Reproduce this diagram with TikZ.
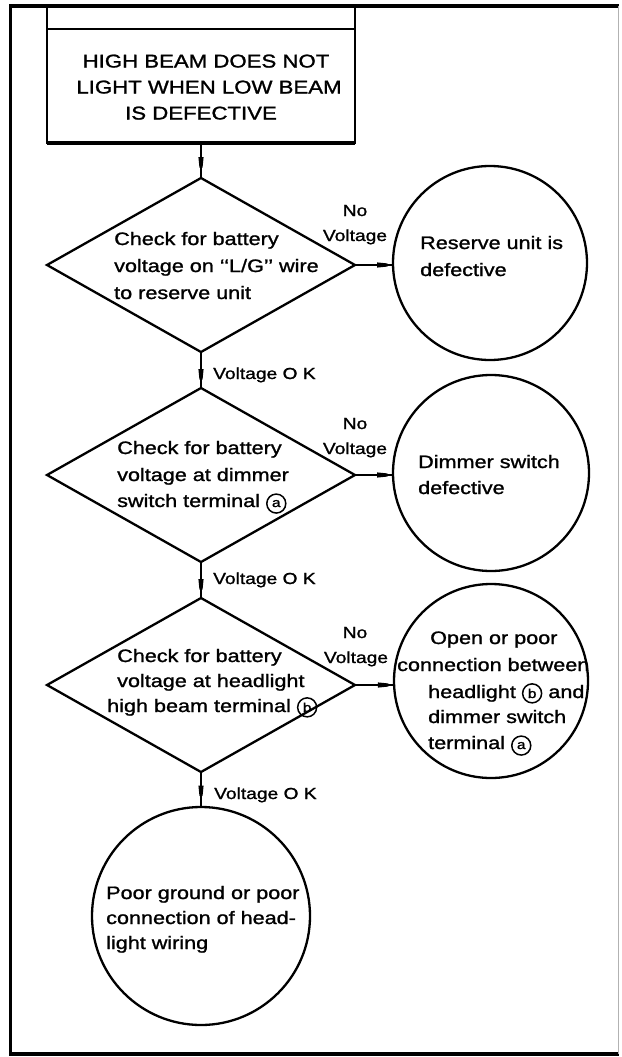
\documentclass[tikz,border=0pt]{standalone}
\usepackage{fontspec}
\setmainfont{Liberation Sans}[FakeStretch=1.2,FakeBold=1.3]
\usetikzlibrary{shapes.geometric,arrows.meta,decorations.markings}
\newcommand{\circlet}[1]{\tikz[baseline=(cc.base)]\node[circle,draw,anchor=center,line width=1.5pt,inner sep=0pt,minimum size=19pt,font=\fontsize{13}{13}\selectfont](cc){#1};}
\tikzset{
  shp/.style={draw, line width=2.3pt, inner sep=0pt, outer sep=0pt},
  dia/.style={shp, diamond, minimum width=308pt, minimum height=174pt},
  circ/.style={shp, circle},
  txt/.style={anchor=base west, inner sep=0pt, font=\fontsize{18}{18}\selectfont},
  captxt/.style={anchor=base, inner sep=0pt, font=\fontsize{18.5}{18.5}\selectfont},
  lbl/.style={anchor=base, inner sep=0pt, font=\fontsize{16}{16}\selectfont},
  lblw/.style={anchor=base west, inner sep=0pt, font=\fontsize{16}{16}\selectfont},
  conn/.style={line width=2.3pt, postaction={decorate},
    decoration={markings, mark=at position #1 with {\fill (-11pt,2.6pt) -- (-1pt,1.6pt) -- (1pt,0pt) -- (-1pt,-1.6pt) -- (-11pt,-2.6pt) -- cycle;}}},
  conn/.default=0.8
}
\begin{document}
\begin{tikzpicture}[x=1pt,y=-1pt]
\useasboundingbox (0,0) rectangle (621,1057);
% frame
\draw[line width=3.5pt] (618.5,6) -- (10.5,6) -- (10.5,1054) -- (618.5,1054);
\draw[line width=1pt, gray!60] (618.5,6) -- (618.5,1054);
\coordinate (ftop) at (0,6);
% top box
\node[shp, rectangle, line width=2.6pt, minimum width=308pt, minimum height=114pt] (box) at (201,86) {};
\draw[line width=4pt] (box.south west) -- (box.south east);
\draw[line width=2.6pt] (box.north west) -- (box.north west |- ftop);
\draw[line width=2.6pt] (box.north east) -- (box.north east |- ftop);
\node[captxt] (b1) at (206,67.5) {HIGH BEAM DOES NOT};
\node[captxt] (b2) at (209,93.5) {LIGHT WHEN LOW BEAM};
\node[captxt] (b3) at (201,119.5) {IS DEFECTIVE};
% diamonds
\node[dia] (d1) at (201,265) {};
\node[dia] (d2) at (201,475) {};
\node[dia] (d3) at (201,685) {};
% circles
\node[circ, minimum size=194pt] (c1) at (490,263) {};
\node[circ, minimum size=196pt] (c2) at (491,473) {};
\node[circ, minimum size=194pt] (c3) at (491,681) {};
\node[circ, minimum size=218pt] (c4) at (201,916) {};
% diamond texts
\node[txt] (d1a) at (114,245) {Check for battery};
\node[txt] (d1b) at (114,272) {voltage on ‘‘L/G’’ wire};
\node[txt] (d1c) at (114,299) {to reserve unit};
\node[txt] (d2a) at (117,454) {Check for battery};
\node[txt] (d2b) at (117,481) {voltage at dimmer};
\node[txt] (d2c) at (117,507) {switch terminal \circlet{a}};
\node[txt] (d3a) at (117,662) {Check for battery};
\node[txt] (d3b) at (117,687) {voltage at headlight};
\node[txt] (d3c) at (107,712) {high beam terminal \circlet{b}};
% circle texts
\node[txt] (c1a) at (420,249) {Reserve unit is};
\node[txt] (c1b) at (420,276) {defective};
\node[txt] (c2a) at (418,468) {Dimmer switch};
\node[txt] (c2b) at (418,494) {defective};
\node[txt] (c3a) at (430,644) {Open or poor};
\node[txt] (c3b) at (397,671) {connection between};
\node[txt] (c3c) at (428,698) {headlight \circlet{b} and};
\node[txt] (c3d) at (428,723) {dimmer switch};
\node[txt] (c3e) at (428,749) {terminal \circlet{a}};
\node[txt] (c4a) at (106,899) {Poor ground or poor};
\node[txt] (c4b) at (106,924) {connection of head-};
\node[txt] (c4c) at (106,949) {light wiring};
% connectors
\draw[conn=0.72] (box.south) -- (d1.north);
\draw[conn=0.78] (d1.south) -- (d2.north);
\draw[conn=0.78] (d2.south) -- (d3.north);
\draw[conn=0.7] (d3.south) -- (c4.north);
\draw[conn=0.87] (d1.east) -- (d1.east -| c1.west);
\draw[conn=0.87] (d2.east) -- (d2.east -| c2.west);
\draw[conn=0.87] (d3.east) -- (d3.east -| c3.west);
% labels
\node[lbl] (n1) at (355,216) {No};
\node[lbl] (v1) at (355,241) {Voltage};
\node[lbl] (n2) at (355,429) {No};
\node[lbl] (v2) at (355,454) {Voltage};
\node[lbl] (n3) at (355,638) {No};
\node[lbl] (v3) at (356,663) {Voltage};
\node[lblw] (k1) at (213,379) {Voltage O K};
\node[lblw] (k2) at (213,584) {Voltage O K};
\node[lblw] (k3) at (214,799) {Voltage O K};
\end{tikzpicture}
\end{document}
